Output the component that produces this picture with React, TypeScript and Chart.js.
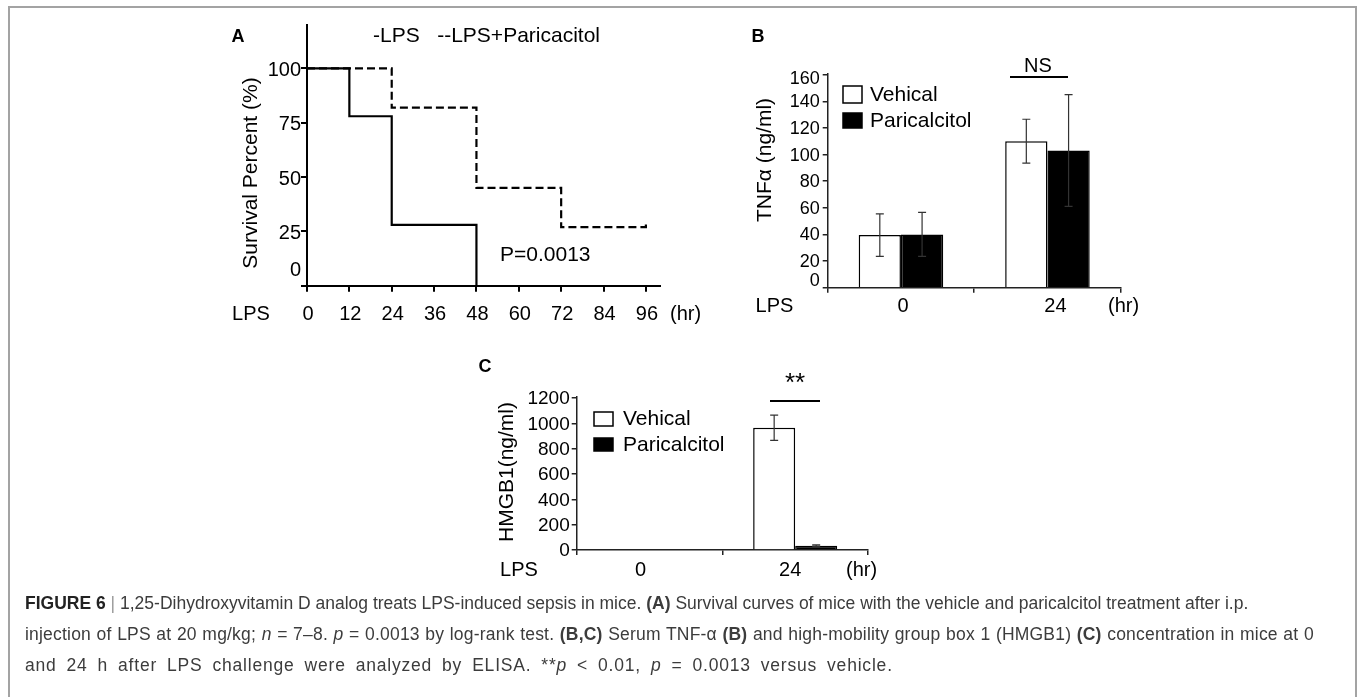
import React, { useEffect, useRef } from "react";
import { Chart, registerables } from "chart.js";

Chart.register(...registerables);

const W = 1358;
const H = 697;
const FONT = '"Liberation Sans", Arial, Helvetica, sans-serif';

// ---------- Panel A : survival ----------
const lpsHours = [0, 12, 24, 48];
const lpsSurvival = [100, 78, 28, 0];
const paricHours = [0, 24, 48, 72, 96, 96];
const paricSurvival = [100, 82, 45, 27, 27, 29.5];
const survivalTicks = [0, 25, 50, 75, 100];
const hourTicks = [0, 12, 24, 36, 48, 60, 72, 84, 96];

// ---------- Panel B : TNF-alpha ----------
const timeCategories = ["0", "24"];
const tnfVehical = [39.5, 110];
const tnfVehicalErr = [16, 16.5];
const tnfParic = [40, 103];
const tnfParicErr = [16.5, 42];
const tnfTicks = [0, 20, 40, 60, 80, 100, 120, 140, 160];

// ---------- Panel C : HMGB1 ----------
const hmgbVehical = [null, 965];
const hmgbVehicalErr = [0, 100];
const hmgbParic = [null, 34];
const hmgbParicErr = [0, 6];
const hmgbTicks = [0, 200, 400, 600, 800, 1000, 1200];

function fnt(size: number, bold = false) {
  return `${bold ? "bold " : ""}${size}px ${FONT}`;
}

function drawText(
  ctx: CanvasRenderingContext2D,
  s: string,
  x: number,
  y: number,
  size: number,
  align: CanvasTextAlign = "center",
  opts: { bold?: boolean; rotate?: boolean } = {}
) {
  ctx.save();
  ctx.fillStyle = "#000";
  ctx.font = fnt(size, opts.bold);
  ctx.textAlign = align;
  ctx.textBaseline = "middle";
  ctx.translate(x, y);
  if (opts.rotate) ctx.rotate(-Math.PI / 2);
  ctx.fillText(s, 0, 0);
  ctx.restore();
}

function drawLine(ctx: CanvasRenderingContext2D, x1: number, y1: number, x2: number, y2: number, w = 2) {
  ctx.save();
  ctx.strokeStyle = "#000";
  ctx.lineWidth = w;
  ctx.beginPath();
  ctx.moveTo(x1, y1);
  ctx.lineTo(x2, y2);
  ctx.stroke();
  ctx.restore();
}

function legendBox(ctx: CanvasRenderingContext2D, x: number, y: number, w: number, h: number, filled: boolean) {
  ctx.save();
  ctx.fillStyle = filled ? "#000" : "#fff";
  ctx.fillRect(x, y, w, h);
  ctx.strokeStyle = "#000";
  ctx.lineWidth = 1.5;
  ctx.strokeRect(x, y, w, h);
  ctx.restore();
}

const errorBarPlugin = {
  id: "errorBars",
  afterDatasetsDraw(chart: any) {
    const ctx = chart.ctx as CanvasRenderingContext2D;
    const ys = chart.scales.y;
    chart.data.datasets.forEach((ds: any, i: number) => {
      if (!ds.errors) return;
      const meta = chart.getDatasetMeta(i);
      meta.data.forEach((el: any, j: number) => {
        const v = ds.data[j];
        const e = ds.errors[j];
        if (v == null || !e) return;
        const x = el.x;
        const yT = ys.getPixelForValue(v + e);
        const yB = ys.getPixelForValue(v - e);
        ctx.save();
        ctx.strokeStyle = "#333";
        ctx.lineWidth = 1.2;
        ctx.beginPath();
        ctx.moveTo(x, yT);
        ctx.lineTo(x, yB);
        ctx.moveTo(x - 4, yT);
        ctx.lineTo(x + 4, yT);
        ctx.moveTo(x - 4, yB);
        ctx.lineTo(x + 4, yB);
        ctx.stroke();
        ctx.restore();
      });
    });
  },
};

function axis(extra: any, lw = 2, tl = 6) {
  return {
    grid: { display: true, drawOnChartArea: false, drawTicks: true, tickLength: tl, color: "#000", lineWidth: lw },
    border: { display: true, color: "#000", width: lw },
    ticks: { display: false },
    title: { display: false },
    afterFit: (s: any) => {
      if (s.isHorizontal()) s.height = 0;
      else s.width = 0;
    },
    ...extra,
  };
}

function makeA(canvas: HTMLCanvasElement) {
  return new Chart(canvas, {
    type: "line",
    data: {
      datasets: [
        {
          label: "-LPS",
          data: lpsHours.map((h, i) => ({ x: h, y: lpsSurvival[i] })),
          borderColor: "#000",
          borderWidth: 2.2,
          stepped: "before",
          pointRadius: 0,
          fill: false,
        },
        {
          label: "--LPS+Paricacitol",
          data: paricHours.map((h, i) => ({ x: h, y: paricSurvival[i] })),
          borderColor: "#000",
          borderWidth: 2.2,
          borderDash: [8, 4],
          stepped: "before",
          pointRadius: 0,
          fill: false,
        },
      ],
    },
    options: {
      responsive: false,
      animation: false,
      devicePixelRatio: 1,
      layout: { padding: { left: 307, top: 25, right: W - 660, bottom: H - 285.7 } },
      plugins: { legend: { display: false }, tooltip: { enabled: false }, title: { display: false } },
      scales: {
        x: axis({
          type: "linear",
          min: 0,
          max: 100,
          afterBuildTicks: (s: any) => {
            s.ticks = hourTicks.map((v) => ({ value: v }));
          },
        }),
        y: axis({
          type: "linear",
          min: 0,
          max: 120,
          afterBuildTicks: (s: any) => {
            s.ticks = survivalTicks.map((v) => ({ value: v }));
          },
        }),
      },
    },
    plugins: [
      {
        id: "textA",
        afterDraw(chart: any) {
          const ctx = chart.ctx;
          const xs = chart.scales.x;
          const ys = chart.scales.y;
          const ca = chart.chartArea;
          survivalTicks.forEach((v) => {
            let y = ys.getPixelForValue(v) + 2;
            if (v === 0) y -= 17;
            drawText(ctx, String(v), ca.left - 6, y, 20, "right");
          });
          hourTicks.forEach((h) => {
            drawText(ctx, String(h), xs.getPixelForValue(h) + 1, 314, 20, "center");
          });
          drawText(ctx, "LPS", 251, 314, 20, "center");
          drawText(ctx, "(hr)", 670, 314, 20, "left");
          drawText(ctx, "Survival Percent (%)", 251, 173, 21, "center", { rotate: true });
          drawText(ctx, "-LPS   --LPS+Paricacitol", 373, 36, 21, "left");
          drawText(ctx, "P=0.0013", 500, 255, 21, "left");
          drawText(ctx, "A", 238, 37, 18, "center", { bold: true });
        },
      },
    ],
  } as any);
}

function makeBars(
  canvas: HTMLCanvasElement,
  vehical: (number | null)[],
  vehicalErr: number[],
  paric: (number | null)[],
  paricErr: number[],
  yMax: number,
  yTicks: number[],
  area: { left: number; top: number; right: number; bottom: number },
  extraDraw: (chart: any) => void
) {
  return new Chart(canvas, {
    type: "bar",
    data: {
      labels: timeCategories,
      datasets: [
        {
          label: "Vehical",
          data: vehical,
          errors: vehicalErr,
          backgroundColor: "#fff",
          borderColor: "#000",
          borderWidth: 1.5,
          categoryPercentage: 0.577,
          barPercentage: 1,
        },
        {
          label: "Paricalcitol",
          data: paric,
          errors: paricErr,
          backgroundColor: "#000",
          borderColor: "#000",
          borderWidth: 1.5,
          categoryPercentage: 0.577,
          barPercentage: 1,
        },
      ],
    },
    options: {
      responsive: false,
      animation: false,
      devicePixelRatio: 1,
      layout: { padding: { left: area.left, top: area.top, right: W - area.right, bottom: H - area.bottom } },
      plugins: { legend: { display: false }, tooltip: { enabled: false }, title: { display: false } },
      scales: {
        x: {
          ...axis({ type: "category", offset: true }, 1.5, 5),
          grid: { display: true, offset: true, drawOnChartArea: false, drawTicks: true, tickLength: 5, color: "#222", lineWidth: 1.5 },
          border: { display: true, color: "#222", width: 1.5 },
        },
        y: {
          ...axis(
            {
              type: "linear",
              min: 0,
              max: yMax,
              afterBuildTicks: (s: any) => {
                s.ticks = yTicks.map((v) => ({ value: v }));
              },
            },
            1.5,
            5
          ),
          grid: { display: true, drawOnChartArea: false, drawTicks: true, tickLength: 5, color: "#222", lineWidth: 1.5 },
          border: { display: true, color: "#222", width: 1.5 },
        },
      },
    },
    plugins: [errorBarPlugin, { id: "textBars", afterDraw: extraDraw }],
  } as any);
}

function makeB(canvas: HTMLCanvasElement) {
  return makeBars(
    canvas,
    tnfVehical,
    tnfVehicalErr,
    tnfParic,
    tnfParicErr,
    161,
    tnfTicks,
    { left: 827.7, top: 73.3, right: 1120.7, bottom: 287.7 },
    (chart: any) => {
      const ctx = chart.ctx;
      const xs = chart.scales.x;
      const ys = chart.scales.y;
      const ca = chart.chartArea;
      tnfTicks.forEach((v) => {
        let y = ys.getPixelForValue(v) + 1;
        if (v === 0) y -= 8;
        if (v === 160) y += 3;
        drawText(ctx, String(v), ca.left - 8, y, 18, "right");
      });
      timeCategories.forEach((c, i) => {
        drawText(ctx, c, xs.getPixelForValue(i) + (i === 1 ? 8 : 2), 306, 20, "center");
      });
      drawText(ctx, "LPS", 774.5, 306, 20, "center");
      drawText(ctx, "(hr)", 1108, 306, 20, "left");
      drawText(ctx, "TNF\u03b1 (ng/ml)", 765, 160, 21, "center", { rotate: true });
      legendBox(ctx, 843, 86, 19, 17, false);
      drawText(ctx, "Vehical", 870, 95, 21, "left");
      legendBox(ctx, 843, 113, 19, 15, true);
      drawText(ctx, "Paricalcitol", 870, 121, 21, "left");
      drawText(ctx, "NS", 1038, 66, 20, "center");
      drawLine(ctx, 1010, 77, 1068, 77, 2);
      drawText(ctx, "B", 758, 37, 18, "center", { bold: true });
    }
  );
}

function makeC(canvas: HTMLCanvasElement) {
  return makeBars(
    canvas,
    hmgbVehical,
    hmgbVehicalErr,
    hmgbParic,
    hmgbParicErr,
    1210,
    hmgbTicks,
    { left: 576.7, top: 396.7, right: 868, bottom: 550 },
    (chart: any) => {
      const ctx = chart.ctx;
      const xs = chart.scales.x;
      const ys = chart.scales.y;
      const ca = chart.chartArea;
      hmgbTicks.forEach((v) => {
        drawText(ctx, String(v), ca.left - 7, ys.getPixelForValue(v) + 1, 19, "right");
      });
      timeCategories.forEach((c, i) => {
        drawText(ctx, c, xs.getPixelForValue(i) - (i === 0 ? 9 : 5), 570, 20, "center");
      });
      drawText(ctx, "LPS", 519, 570, 20, "center");
      drawText(ctx, "(hr)", 846, 570, 20, "left");
      drawText(ctx, "HMGB1(ng/ml)", 507, 472, 21, "center", { rotate: true });
      legendBox(ctx, 594, 412, 19, 14, false);
      drawText(ctx, "Vehical", 623, 419, 21, "left");
      legendBox(ctx, 594, 438, 19, 13, true);
      drawText(ctx, "Paricalcitol", 623, 445, 21, "left");
      drawText(ctx, "**", 795, 384, 26, "center");
      drawLine(ctx, 770, 401, 820, 401, 2);
      drawText(ctx, "C", 485, 367, 18, "center", { bold: true });
    }
  );
}

export default function App() {
  const aRef = useRef<HTMLCanvasElement>(null);
  const bRef = useRef<HTMLCanvasElement>(null);
  const cRef = useRef<HTMLCanvasElement>(null);

  useEffect(() => {
    const charts = [makeA(aRef.current!), makeB(bRef.current!), makeC(cRef.current!)];
    return () => charts.forEach((c) => c.destroy());
  }, []);

  const cv: React.CSSProperties = { position: "absolute", left: 0, top: 0, width: W, height: H };
  const lineStyle: React.CSSProperties = { whiteSpace: "nowrap", height: 31, lineHeight: "31px" };

  return (
    <div style={{ position: "absolute", left: 0, top: 0, width: W, height: H, background: "#fff", overflow: "hidden" }}>
      <div
        style={{
          position: "absolute",
          left: 8,
          top: 6,
          width: 1345,
          height: 720,
          borderLeft: "2px solid #a3a3a3",
          borderTop: "2px solid #a3a3a3",
          borderRight: "2px solid #a3a3a3",
        }}
      />
      <canvas ref={aRef} width={W} height={H} style={cv} />
      <canvas ref={bRef} width={W} height={H} style={cv} />
      <canvas ref={cRef} width={W} height={H} style={cv} />
      <div
        style={{
          position: "absolute",
          left: 25,
          top: 588,
          fontFamily: FONT,
          fontSize: 17.5,
          color: "#3c3c3c",
        }}
      >
        <div style={lineStyle}>
          <b style={{ color: "#222" }}>FIGURE 6</b> <span style={{ color: "#999" }}>|</span> 1,25-Dihydroxyvitamin D analog treats
          LPS-induced sepsis in mice. <b>(A)</b> Survival curves of mice with the vehicle and paricalcitol treatment after i.p.
        </div>
        <div style={{ ...lineStyle, letterSpacing: "0.2px", wordSpacing: "0.5px" }}>
          injection of LPS at 20 mg/kg; <i>n</i> = 7–8. <i>p</i> = 0.0013 by log-rank test. <b>(B,C)</b> Serum TNF-α{" "}
          <b>(B)</b> and high-mobility group box 1 (HMGB1) <b>(C)</b> concentration in mice at 0
        </div>
        <div style={{ ...lineStyle, letterSpacing: "0.8px", wordSpacing: "4.3px" }}>
          and 24 h after LPS challenge were analyzed by ELISA. **<i>p</i> &lt; 0.01, <i>p</i> = 0.0013 versus vehicle.
        </div>
      </div>
    </div>
  );
}
